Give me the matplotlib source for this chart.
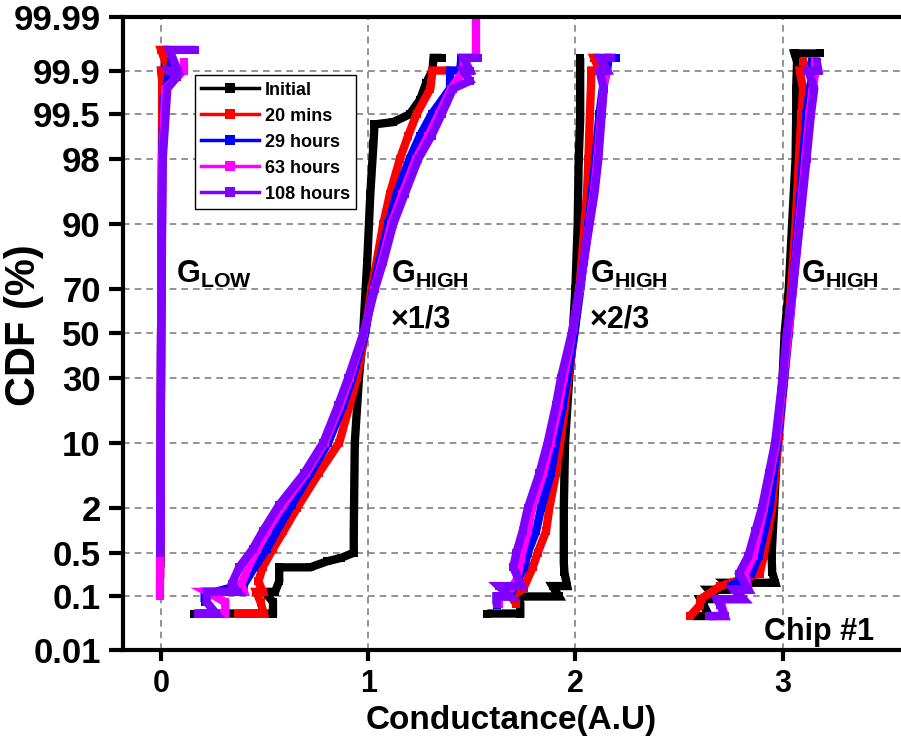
import numpy as np
import matplotlib
matplotlib.use("Agg")
import matplotlib.pyplot as plt
from matplotlib.lines import Line2D
from matplotlib.ticker import NullLocator
from statistics import NormalDist

plt.rcParams['font.family'] = ['Liberation Sans', 'DejaVu Sans']
plt.rcParams['font.weight'] = 'bold'
plt.rcParams['mathtext.fontset'] = 'custom'
plt.rcParams['mathtext.rm'] = 'Liberation Sans:bold'
plt.rcParams['mathtext.bf'] = 'Liberation Sans:bold'

# CDF curves as (conductance, cumulative %) pairs, one list per state
initial_g0 = [(-0.004, 0.3), (-0.003, 2), (0.0, 50), (0.004, 98), (0.01, 99.7), (0.02, 99.93)]
initial_g1 = [(0.16, 0.05), (0.54, 0.05), (0.54, 0.08), (0.50, 0.12), (0.55, 0.12), (0.57, 0.18),
              (0.57, 0.3), (0.72, 0.3), (0.80, 0.37), (0.87, 0.42), (0.93, 0.5), (0.93, 1),
              (0.935, 10), (0.955, 30), (0.975, 50), (0.995, 80), (1.01, 95), (1.025, 98.7),
              (1.03, 99.3), (1.12, 99.35), (1.2, 99.5), (1.25, 99.7), (1.28, 99.84), (1.31, 99.9),
              (1.315, 99.94), (1.355, 99.94)]
initial_g2 = [(1.575, 0.05), (1.734, 0.05), (1.734, 0.075), (1.70, 0.1), (1.92, 0.1), (1.89, 0.15),
              (1.96, 0.15), (1.947, 0.25), (1.944, 0.35), (1.944, 2), (1.95, 10), (1.97, 30),
              (1.987, 50), (2.0, 70), (2.011, 90), (2.016, 98), (2.023, 99.4), (2.023, 99.94)]
initial_g3 = [(2.563, 0.045), (2.645, 0.045), (2.62, 0.07), (2.604, 0.09), (2.683, 0.09), (2.644, 0.13),
              (2.768, 0.13), (2.728, 0.17), (2.965, 0.17), (2.95, 0.25), (2.947, 0.45), (2.959, 2),
              (2.975, 10), (3.0, 30), (3.01, 50), (3.03, 70), (3.046, 90), (3.063, 98), (3.066, 99.5),
              (3.066, 99.8), (3.07, 99.93), (3.058, 99.95), (3.18, 99.95)]

min20_g0 = [(-0.004, 0.2), (-0.003, 2), (0.0, 50), (0.004, 98), (0.005, 99.85), (0.0, 99.9),
            (0.035, 99.9), (0.0, 99.957), (0.04, 99.957)]
min20_g1 = [(0.37, 0.05), (0.495, 0.05), (0.48, 0.08), (0.46, 0.12), (0.49, 0.12), (0.47, 0.18),
            (0.49, 0.3), (0.54, 0.57), (0.59, 1), (0.655, 2), (0.76, 5), (0.86, 10), (0.91, 20),
            (0.945, 30), (0.985, 50), (1.015, 70), (1.04, 80), (1.072, 90), (1.105, 95), (1.153, 98),
            (1.193, 99), (1.233, 99.5), (1.3, 99.8), (1.31, 99.9), (1.395, 99.9)]
min20_g2 = [(1.713, 0.075), (1.69, 0.1), (1.70, 0.1), (1.75, 0.14), (1.794, 0.3), (1.818, 0.5),
            (1.858, 1), (1.874, 2), (1.906, 5), (1.927, 10), (1.95, 20), (1.966, 30), (1.995, 50),
            (2.019, 70), (2.03, 80), (2.044, 90), (2.056, 95), (2.063, 98), (2.07, 99.5),
            (2.076, 99.85), (2.076, 99.9), (2.116, 99.9), (2.09, 99.94), (2.116, 99.94)]
min20_g3 = [(2.554, 0.045), (2.60, 0.07), (2.604, 0.09), (2.70, 0.15), (2.89, 0.24), (2.909, 0.45),
            (2.95, 2), (2.98, 10), (3.008, 30), (3.025, 50), (3.041, 70), (3.063, 90), (3.079, 98),
            (3.091, 99.5), (3.099, 99.8), (3.083, 99.9), (3.124, 99.9), (3.10, 99.93)]

h29_g0 = [(-0.005, 0.3), (-0.003, 2), (0.0, 50), (0.005, 98), (0.012, 99.7), (0.05, 99.93)]
h29_g1 = [(0.21, 0.08), (0.21, 0.12), (0.26, 0.12), (0.40, 0.16), (0.45, 0.3), (0.51, 0.57),
          (0.556, 1), (0.63, 2.2), (0.72, 5), (0.807, 10), (0.879, 20), (0.923, 30), (0.984, 50),
          (1.024, 70), (1.053, 80), (1.097, 90), (1.137, 95), (1.2, 98), (1.25, 99), (1.306, 99.5),
          (1.395, 99.8), (1.395, 99.9), (1.443, 99.9), (1.45, 99.94)]
h29_g2 = [(1.62, 0.07), (1.62, 0.1), (1.685, 0.1), (1.70, 0.14), (1.753, 0.3), (1.77, 0.5),
          (1.81, 1), (1.834, 2), (1.882, 5), (1.906, 10), (1.939, 20), (1.96, 30), (1.995, 50),
          (2.024, 70), (2.04, 80), (2.063, 90), (2.079, 95), (2.097, 98), (2.116, 99.5),
          (2.132, 99.8), (2.153, 99.9), (2.16, 99.94), (2.197, 99.94)]
h29_g3 = [(2.75, 0.15), (2.85, 0.24), (2.885, 0.45), (2.937, 2), (2.975, 10), (3.008, 30),
          (3.03, 50), (3.05, 70), (3.074, 90), (3.099, 98), (3.115, 99.5), (3.132, 99.8),
          (3.149, 99.9), (3.14, 99.93)]

h63_g0 = [(-0.006, 0.1), (-0.003, 2), (0.0, 50), (0.006, 98), (0.02, 99.8), (0.11, 99.9), (0.11, 99.93)]
h63_g1 = [(0.18, 0.05), (0.31, 0.05), (0.31, 0.08), (0.22, 0.12), (0.40, 0.12), (0.387, 0.16),
          (0.42, 0.3), (0.465, 0.57), (0.51, 1), (0.59, 2.2), (0.70, 5), (0.79, 10), (0.865, 20),
          (0.91, 30), (0.978, 50), (1.03, 70), (1.065, 80), (1.11, 90), (1.165, 95), (1.23, 98),
          (1.29, 99), (1.34, 99.5), (1.40, 99.8), (1.46, 99.9), (1.46, 99.94), (1.52, 99.94),
          (1.52, 99.999)]
h63_g2 = [(1.63, 0.075), (1.63, 0.1), (1.68, 0.12), (1.72, 0.2), (1.735, 0.4), (1.77, 1),
          (1.79, 2), (1.845, 5), (1.88, 10), (1.92, 20), (1.943, 30), (1.985, 50), (2.02, 70),
          (2.04, 80), (2.066, 90), (2.088, 95), (2.106, 98), (2.124, 99.5), (2.135, 99.8),
          (2.15, 99.9)]
h63_g3 = [(2.645, 0.045), (2.72, 0.045), (2.70, 0.09), (2.81, 0.09), (2.77, 0.13), (2.835, 0.13),
          (2.82, 0.24), (2.86, 0.45), (2.91, 2), (2.97, 10), (3.004, 30), (3.028, 50), (3.05, 70),
          (3.08, 90), (3.11, 98), (3.13, 99.5), (3.145, 99.8), (3.16, 99.9), (3.155, 99.93)]

h108_g0 = [(-0.005, 0.5), (-0.003, 2), (0.0, 50), (0.008, 98), (0.03, 99.8), (0.075, 99.87),
           (0.04, 99.9), (0.08, 99.9), (0.04, 99.957), (0.165, 99.957)]
h108_g1 = [(0.18, 0.05), (0.265, 0.05), (0.22, 0.08), (0.22, 0.12), (0.37, 0.12), (0.34, 0.16),
           (0.377, 0.3), (0.443, 0.57), (0.49, 1), (0.57, 2.2), (0.69, 5), (0.783, 10),
           (0.855, 20), (0.903, 30), (0.976, 50), (1.032, 70), (1.072, 80), (1.12, 90),
           (1.177, 95), (1.242, 98), (1.306, 99), (1.354, 99.5), (1.41, 99.8), (1.49, 99.85),
           (1.46, 99.9), (1.49, 99.9), (1.46, 99.94), (1.53, 99.94)]
h108_g2 = [(1.62, 0.075), (1.62, 0.1), (1.685, 0.1), (1.63, 0.15), (1.74, 0.15), (1.70, 0.3),
           (1.715, 0.5), (1.745, 1), (1.77, 2), (1.826, 5), (1.866, 10), (1.906, 20), (1.93, 30),
           (1.982, 50), (2.019, 70), (2.04, 80), (2.068, 90), (2.092, 95), (2.111, 98),
           (2.127, 99.5), (2.137, 99.8), (2.116, 99.9), (2.153, 99.9), (2.12, 99.94), (2.173, 99.94)]
h108_g3 = [(2.645, 0.045), (2.72, 0.045), (2.70, 0.07), (2.683, 0.09), (2.81, 0.09), (2.768, 0.13),
           (2.835, 0.13), (2.79, 0.24), (2.835, 0.45), (2.868, 1), (2.9, 2), (2.934, 5),
           (2.964, 10), (3.0, 30), (3.02, 50), (3.05, 70), (3.083, 90), (3.116, 98), (3.137, 99.5),
           (3.153, 99.8), (3.124, 99.9), (3.173, 99.9), (3.165, 99.93)]

labels = ['Initial', '20 mins', '29 hours', '63 hours', '108 hours']
colors = ['black', '#ff0000', '#0000ff', '#ff00ff', '#8000ff']
curves = [
    [initial_g0, initial_g1, initial_g2, initial_g3],
    [min20_g0, min20_g1, min20_g2, min20_g3],
    [h29_g0, h29_g1, h29_g2, h29_g3],
    [h63_g0, h63_g1, h63_g2, h63_g3],
    [h108_g0, h108_g1, h108_g2, h108_g3],
]

prob_ticks = [0.01, 0.1, 0.5, 2, 10, 30, 50, 70, 90, 98, 99.5, 99.9, 99.99]
prob_ticklabels = ['0.01', '0.1', '0.5', '2', '10', '30', '50', '70', '90', '98', '99.5', '99.9', '99.99']

nd = NormalDist()
_ppf = np.vectorize(nd.inv_cdf, otypes=[float])
_cdf = np.vectorize(nd.cdf, otypes=[float])


def to_z(p):
    p = np.clip(np.asarray(p, dtype=float) / 100.0, 1e-9, 1 - 1e-9)
    return _ppf(p)


def from_z(z):
    return _cdf(np.asarray(z, dtype=float)) * 100.0


fig = plt.figure(figsize=(9.01, 7.40), dpi=100)
ax = fig.add_axes([123 / 901, 90 / 740, 777 / 901, 633 / 740])
ax.set_yscale('function', functions=(to_z, from_z))

for lab, col, groups in zip(labels, colors, curves):
    for pts in groups:
        g = [q[0] for q in pts]
        p = [q[1] for q in pts]
        ax.plot(g, p, color=col, lw=6, marker='s', ms=6, mew=0,
                solid_joinstyle='miter', solid_capstyle='butt')

ax.set_xlim(-0.184, 3.567)
ax.set_ylim(0.01, 99.99)
ax.set_xticks([0, 1, 2, 3])
ax.set_xticklabels(['0', '1', '2', '3'])
ax.set_yticks(prob_ticks)
ax.set_yticklabels(prob_ticklabels)
ax.yaxis.set_minor_locator(NullLocator())
ax.xaxis.set_minor_locator(NullLocator())
ax.tick_params(axis='y', labelsize=25, length=10, width=3, pad=6, direction='out')
ax.tick_params(axis='x', labelsize=22, length=8, width=3, pad=6, direction='out')
ax.grid(True, color='#808080', linestyle=(0, (4, 3)), linewidth=1.2)
ax.set_axisbelow(True)
for side in ['left', 'bottom', 'top']:
    ax.spines[side].set_linewidth(3)
ax.spines['right'].set_visible(False)

ax.set_xlabel('Conductance(A.U)', fontsize=24, fontweight='bold', labelpad=4)
ax.set_ylabel('CDF (%)', fontsize=30, fontweight='bold')
ax.yaxis.set_label_coords(-0.102, 0.513)

ax.text(0.07, 72.4, r'G$_{\mathrm{LOW}}$', fontsize=22, fontweight='bold')
ax.text(1.11, 72.4, r'G$_{\mathrm{HIGH}}$', fontsize=22, fontweight='bold')
ax.text(1.11, 52.6, '×1/3', fontsize=22, fontweight='bold')
ax.text(2.07, 72.4, r'G$_{\mathrm{HIGH}}$', fontsize=22, fontweight='bold')
ax.text(2.07, 52.6, '×2/3', fontsize=22, fontweight='bold')
ax.text(3.09, 72.4, r'G$_{\mathrm{HIGH}}$', fontsize=22, fontweight='bold')
ax.text(2.91, 0.016, 'Chip #1', fontsize=22, fontweight='bold')

handles = [Line2D([0], [0], color=c, lw=2.5, marker='s', ms=7, mew=0) for c in colors]
leg = ax.legend(handles, labels, loc='upper left', bbox_to_anchor=(0.0927, 0.908),
                borderaxespad=0, fancybox=False, edgecolor='black', framealpha=1,
                prop={'size': 13, 'weight': 'bold'}, handlelength=3.2, labelspacing=0.5,
                borderpad=0.35, handletextpad=0.3)
leg.get_frame().set_linewidth(1)

fig.savefig('out.png', dpi=100)
